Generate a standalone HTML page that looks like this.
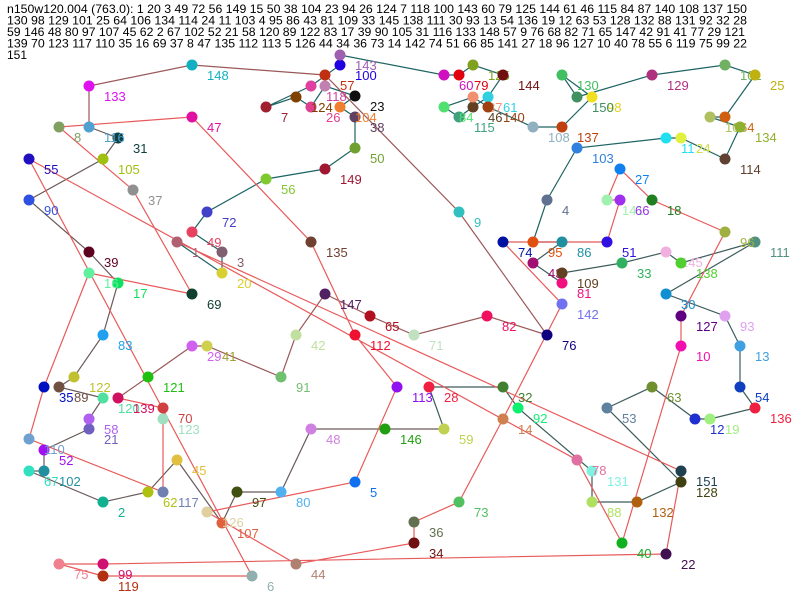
<!DOCTYPE html>
<html><head><meta charset="utf-8"><style>
html,body{margin:0;padding:0;background:#fff;width:800px;height:600px;overflow:hidden}
svg{display:block}
text{font-family:"Liberation Sans",sans-serif}
</style></head><body>
<svg width="800" height="600" xmlns="http://www.w3.org/2000/svg">
<g font-size="12" fill="#000">
<text x="7" y="13" textLength="740" lengthAdjust="spacingAndGlyphs">n150w120.004 (763.0): 1 20 3 49 72 56 149 15 50 38 104 23 94 26 124 7 118 100 143 60 79 125 144 61 46 115 84 87 140 108 137 150</text>
<text x="7" y="24.5" textLength="740" lengthAdjust="spacingAndGlyphs">130 98 129 101 25 64 106 134 114 24 11 103 4 95 86 43 81 109 33 145 138 111 30 93 13 54 136 19 12 63 53 128 132 88 131 92 32 28</text>
<text x="7" y="36" textLength="738" lengthAdjust="spacingAndGlyphs">59 146 48 80 97 107 45 62 2 67 102 52 21 58 120 89 122 83 17 39 90 105 31 116 133 148 57 9 76 68 82 71 65 147 42 91 41 77 29 121</text>
<text x="7" y="47.5" textLength="740" lengthAdjust="spacingAndGlyphs">139 70 123 117 110 35 16 69 37 8 47 135 112 113 5 126 44 34 36 73 14 142 74 51 66 85 141 27 18 96 127 10 40 78 55 6 119 75 99 22</text>
<text x="7" y="59">151</text>
</g>
<g fill="none" stroke-width="1.2">
<polyline stroke="#1e6464" points="177,242 222,273 222,252 192,232 207,212 266,179 325,169 355,148 355,148 355,117 340,107 355,96 325,86 311,107 296,97 266,107 311,86 340,65 340,55 444,75 459,75 473,65 503,75 488,97 473,107 459,117 444,107 473,97 488,107 533,127 562,127 592,97 562,75 577,97 652,75 725,65 755,75 725,117 710,117 740,127 725,159 681,138 666,138 577,148 547,200 533,242"/>
<polyline stroke="#3c5c5c" points="533,242 562,242 533,263 562,283 562,273 622,263 666,252 681,263 755,242 666,294 725,316 740,346 740,387 755,408 710,419 695,419 652,387 607,408 681,482 637,502 592,502 592,471 518,408 503,387 429,387 444,429"/>
<polyline stroke="#6a5a5a" points="444,429 385,429 311,429 281,492 237,492 222,523 177,460 148,492 103,502 29,471 44,471 44,450 89,429 89,419 103,398 59,387 74,377 103,335 118,283 89,252 29,200 103,159 118,138 89,127"/>
<polyline stroke="#9a5858" points="89,127 89,86 192,65 325,75 459,212 547,335 487,316 487,316 414,335 370,316 325,294 296,335 281,377 207,346 207,346 192,346 148,377 118,398"/>
<polyline stroke="#e85a5a" points="118,398 163,408 163,419 163,492 29,439 44,387 89,273 192,294 133,190 59,127 192,117 311,242 355,335 397,387 355,482 207,512 296,564 414,543 414,522 459,502 503,419 562,304 503,242 607,242 620,200 613,200 607,200 620,169 652,200 725,232 681,316 681,346 622,543 577,460 29,159 252,576 103,576 59,564 103,564 666,554 681,471 177,242"/>
</g>
<g font-size="13">
<circle cx="177" cy="242" r="5.5" fill="#b06070"/><text x="192" y="257" fill="#b06070">1</text>
<circle cx="222" cy="273" r="5.5" fill="#d8d030"/><text x="237" y="288" fill="#d8d030">20</text>
<circle cx="222" cy="252" r="5.5" fill="#806070"/><text x="237" y="267" fill="#806070">3</text>
<circle cx="192" cy="232" r="5.5" fill="#e84060"/><text x="207" y="247" fill="#e84060">49</text>
<circle cx="207" cy="212" r="5.5" fill="#4040c8"/><text x="222" y="227" fill="#4040c8">72</text>
<circle cx="266" cy="179" r="5.5" fill="#80c830"/><text x="281" y="194" fill="#80c830">56</text>
<circle cx="325" cy="169" r="5.5" fill="#a01830"/><text x="340" y="184" fill="#a01830">149</text>
<circle cx="355" cy="148" r="5.5" fill="#70a030"/><text x="370" y="163" fill="#70a030">50</text>
<circle cx="355" cy="117" r="5.5" fill="#604060"/><text x="370" y="132" fill="#604060">38</text>
<circle cx="340" cy="107" r="5.5" fill="#f08030"/><text x="355" y="122" fill="#f08030">104</text>
<circle cx="355" cy="96" r="5.5" fill="#101010"/><text x="370" y="111" fill="#101010">23</text>
<circle cx="325" cy="86" r="5.5" fill="#c080b0"/>
<circle cx="311" cy="107" r="5.5" fill="#e04090"/><text x="326" y="122" fill="#e04090">26</text>
<circle cx="296" cy="97" r="5.5" fill="#804000"/><text x="311" y="112" fill="#804000">124</text>
<circle cx="266" cy="107" r="5.5" fill="#a02030"/><text x="281" y="122" fill="#a02030">7</text>
<circle cx="311" cy="86" r="5.5" fill="#e040a0"/><text x="326" y="101" fill="#d040a0">118</text>
<circle cx="340" cy="65" r="5.5" fill="#2000e0"/><text x="355" y="80" fill="#2000e0">100</text>
<circle cx="340" cy="55" r="5.5" fill="#a060b0"/><text x="355" y="70" fill="#a060b0">143</text>
<circle cx="444" cy="75" r="5.5" fill="#d010c0"/><text x="459" y="90" fill="#d010c0">60</text>
<circle cx="459" cy="75" r="5.5" fill="#e00010"/><text x="474" y="90" fill="#e00010">79</text>
<circle cx="473" cy="65" r="5.5" fill="#80a020"/><text x="488" y="80" fill="#80a020">125</text>
<circle cx="503" cy="75" r="5.5" fill="#701010"/><text x="518" y="90" fill="#701010">144</text>
<circle cx="488" cy="97" r="5.5" fill="#30d0e0"/><text x="503" y="112" fill="#30d0e0">61</text>
<circle cx="473" cy="107" r="5.5" fill="#604020"/><text x="488" y="122" fill="#604020">46</text>
<circle cx="459" cy="117" r="5.5" fill="#40a080"/><text x="474" y="132" fill="#40a080">115</text>
<circle cx="444" cy="107" r="5.5" fill="#50e070"/><text x="459" y="122" fill="#50e070">84</text>
<circle cx="473" cy="97" r="5.5" fill="#f09070"/><text x="488" y="112" fill="#f09070">87</text>
<circle cx="488" cy="107" r="5.5" fill="#a04010"/><text x="503" y="122" fill="#a04010">140</text>
<circle cx="533" cy="127" r="5.5" fill="#90b0c0"/><text x="548" y="142" fill="#90b0c0">108</text>
<circle cx="562" cy="127" r="5.5" fill="#c04010"/><text x="577" y="142" fill="#c04010">137</text>
<circle cx="592" cy="97" r="5.5" fill="#f0e020"/><text x="607" y="112" fill="#e0d020">98</text>
<circle cx="562" cy="75" r="5.5" fill="#40c060"/><text x="577" y="90" fill="#40c060">130</text>
<circle cx="577" cy="97" r="5.5" fill="#409060"/><text x="592" y="112" fill="#409060">150</text>
<circle cx="652" cy="75" r="5.5" fill="#b03080"/><text x="667" y="90" fill="#b03080">129</text>
<circle cx="725" cy="65" r="5.5" fill="#70b060"/><text x="740" y="80" fill="#70b060">101</text>
<circle cx="755" cy="75" r="5.5" fill="#c0b010"/><text x="770" y="90" fill="#c0b010">25</text>
<circle cx="725" cy="117" r="5.5" fill="#d06010"/><text x="740" y="132" fill="#d06010">64</text>
<circle cx="710" cy="117" r="5.5" fill="#b0c060"/><text x="725" y="132" fill="#b0c060">106</text>
<circle cx="740" cy="127" r="5.5" fill="#90b030"/><text x="755" y="142" fill="#90b030">134</text>
<circle cx="725" cy="159" r="5.5" fill="#604030"/><text x="740" y="174" fill="#604030">114</text>
<circle cx="681" cy="138" r="5.5" fill="#e0f040"/><text x="696" y="153" fill="#d0e040">24</text>
<circle cx="666" cy="138" r="5.5" fill="#20e0f0"/><text x="681" y="153" fill="#20e0f0">11</text>
<circle cx="577" cy="148" r="5.5" fill="#3080e0"/><text x="592" y="163" fill="#3080e0">103</text>
<circle cx="547" cy="200" r="5.5" fill="#607090"/><text x="562" y="215" fill="#607090">4</text>
<circle cx="533" cy="242" r="5.5" fill="#e05010"/><text x="548" y="257" fill="#e05010">95</text>
<circle cx="562" cy="242" r="5.5" fill="#2090a0"/><text x="577" y="257" fill="#2090a0">86</text>
<circle cx="533" cy="263" r="5.5" fill="#a01070"/><text x="548" y="278" fill="#a01070">43</text>
<circle cx="562" cy="283" r="5.5" fill="#f01080"/><text x="577" y="298" fill="#f01080">81</text>
<circle cx="562" cy="273" r="5.5" fill="#604020"/><text x="577" y="288" fill="#604020">109</text>
<circle cx="622" cy="263" r="5.5" fill="#30b060"/><text x="637" y="278" fill="#30b060">33</text>
<circle cx="666" cy="252" r="5.5" fill="#f0b0e0"/><text x="681" y="267" fill="#f0b0e0">145</text>
<circle cx="681" cy="263" r="5.5" fill="#50d030"/><text x="696" y="278" fill="#50d030">138</text>
<circle cx="755" cy="242" r="5.5" fill="#509080"/><text x="770" y="257" fill="#509080">111</text>
<circle cx="666" cy="294" r="5.5" fill="#1090d0"/><text x="681" y="309" fill="#1090d0">30</text>
<circle cx="725" cy="316" r="5.5" fill="#e0a0f0"/><text x="740" y="331" fill="#e0a0f0">93</text>
<circle cx="740" cy="346" r="5.5" fill="#40a0e0"/><text x="755" y="361" fill="#40a0e0">13</text>
<circle cx="740" cy="387" r="5.5" fill="#1040c0"/><text x="755" y="402" fill="#1040c0">54</text>
<circle cx="755" cy="408" r="5.5" fill="#f02040"/><text x="770" y="423" fill="#f02040">136</text>
<circle cx="710" cy="419" r="5.5" fill="#a0f080"/><text x="725" y="434" fill="#a0f080">19</text>
<circle cx="695" cy="419" r="5.5" fill="#2030d0"/><text x="710" y="434" fill="#2030d0">12</text>
<circle cx="652" cy="387" r="5.5" fill="#709030"/><text x="667" y="402" fill="#709030">63</text>
<circle cx="607" cy="408" r="5.5" fill="#6080a0"/><text x="622" y="423" fill="#6080a0">53</text>
<circle cx="681" cy="482" r="5.5" fill="#404010"/><text x="696" y="497" fill="#404010">128</text>
<circle cx="637" cy="502" r="5.5" fill="#b06010"/><text x="652" y="517" fill="#b06010">132</text>
<circle cx="592" cy="502" r="5.5" fill="#b0e060"/><text x="607" y="517" fill="#b0e060">88</text>
<circle cx="592" cy="471" r="5.5" fill="#80f0e0"/><text x="607" y="486" fill="#80f0e0">131</text>
<circle cx="518" cy="408" r="5.5" fill="#10f070"/><text x="533" y="423" fill="#10f070">92</text>
<circle cx="503" cy="387" r="5.5" fill="#408030"/><text x="518" y="402" fill="#408030">32</text>
<circle cx="429" cy="387" r="5.5" fill="#f02040"/><text x="444" y="402" fill="#f02040">28</text>
<circle cx="444" cy="429" r="5.5" fill="#c0d050"/><text x="459" y="444" fill="#c0d050">59</text>
<circle cx="385" cy="429" r="5.5" fill="#20a010"/><text x="400" y="444" fill="#20a010">146</text>
<circle cx="311" cy="429" r="5.5" fill="#d080e0"/><text x="326" y="444" fill="#d080e0">48</text>
<circle cx="281" cy="492" r="5.5" fill="#50b0f0"/><text x="296" y="507" fill="#50b0f0">80</text>
<circle cx="237" cy="492" r="5.5" fill="#405010"/><text x="252" y="507" fill="#405010">97</text>
<circle cx="222" cy="523" r="5.5" fill="#e06040"/><text x="237" y="538" fill="#e06040">107</text>
<circle cx="177" cy="460" r="5.5" fill="#e0c040"/><text x="192" y="475" fill="#e0c040">45</text>
<circle cx="148" cy="492" r="5.5" fill="#b0c010"/><text x="163" y="507" fill="#b0c010">62</text>
<circle cx="103" cy="502" r="5.5" fill="#10b090"/><text x="118" y="517" fill="#10b090">2</text>
<circle cx="29" cy="471" r="5.5" fill="#30e0c0"/><text x="44" y="486" fill="#30e0c0">67</text>
<circle cx="44" cy="471" r="5.5" fill="#2090a0"/><text x="59" y="486" fill="#2090a0">102</text>
<circle cx="44" cy="450" r="5.5" fill="#a010f0"/><text x="59" y="465" fill="#a010f0">52</text>
<circle cx="89" cy="429" r="5.5" fill="#7060c0"/><text x="104" y="444" fill="#7060c0">21</text>
<circle cx="89" cy="419" r="5.5" fill="#b060f0"/><text x="104" y="434" fill="#b060f0">58</text>
<circle cx="103" cy="398" r="5.5" fill="#50e0a0"/><text x="118" y="413" fill="#50e0a0">120</text>
<circle cx="59" cy="387" r="5.5" fill="#705040"/><text x="74" y="402" fill="#705040">89</text>
<circle cx="74" cy="377" r="5.5" fill="#c0c030"/><text x="89" y="392" fill="#c0c030">122</text>
<circle cx="103" cy="335" r="5.5" fill="#20a0f0"/><text x="118" y="350" fill="#20a0f0">83</text>
<circle cx="118" cy="283" r="5.5" fill="#10e060"/><text x="133" y="298" fill="#10e060">17</text>
<circle cx="89" cy="252" r="5.5" fill="#600020"/><text x="104" y="267" fill="#600020">39</text>
<circle cx="29" cy="200" r="5.5" fill="#3050e0"/><text x="44" y="215" fill="#3050e0">90</text>
<circle cx="103" cy="159" r="5.5" fill="#a0c010"/><text x="118" y="174" fill="#a0c010">105</text>
<circle cx="118" cy="138" r="5.5" fill="#104040"/><text x="133" y="153" fill="#104040">31</text>
<circle cx="89" cy="127" r="5.5" fill="#50a0d0"/><text x="104" y="142" fill="#50a0d0">116</text>
<circle cx="89" cy="86" r="5.5" fill="#e010f0"/><text x="104" y="101" fill="#e010f0">133</text>
<circle cx="192" cy="65" r="5.5" fill="#10b0c0"/><text x="207" y="80" fill="#10b0c0">148</text>
<circle cx="325" cy="75" r="5.5" fill="#c03010"/><text x="340" y="90" fill="#c03010">57</text>
<circle cx="459" cy="212" r="5.5" fill="#30c0c0"/><text x="474" y="227" fill="#30c0c0">9</text>
<circle cx="547" cy="335" r="5.5" fill="#100080"/><text x="562" y="350" fill="#100080">76</text>
<circle cx="487" cy="316" r="5.5" fill="#f01060"/><text x="502" y="331" fill="#f01060">82</text>
<circle cx="414" cy="335" r="5.5" fill="#c0e0c0"/><text x="429" y="350" fill="#c0e0c0">71</text>
<circle cx="370" cy="316" r="5.5" fill="#b01020"/><text x="385" y="331" fill="#b01020">65</text>
<circle cx="325" cy="294" r="5.5" fill="#502060"/><text x="340" y="309" fill="#502060">147</text>
<circle cx="296" cy="335" r="5.5" fill="#c0e0a0"/><text x="311" y="350" fill="#c0e0a0">42</text>
<circle cx="281" cy="377" r="5.5" fill="#70c070"/><text x="296" y="392" fill="#70c070">91</text>
<circle cx="207" cy="346" r="5.5" fill="#d0d050"/><text x="222" y="361" fill="#a0a030">41</text>
<circle cx="192" cy="346" r="5.5" fill="#d060f0"/><text x="207" y="361" fill="#d060f0">29</text>
<circle cx="148" cy="377" r="5.5" fill="#20c010"/><text x="163" y="392" fill="#20c010">121</text>
<circle cx="118" cy="398" r="5.5" fill="#d01060"/><text x="133" y="413" fill="#d01060">139</text>
<circle cx="163" cy="408" r="5.5" fill="#d04040"/><text x="178" y="423" fill="#d04040">70</text>
<circle cx="163" cy="419" r="5.5" fill="#a0e0c0"/><text x="178" y="434" fill="#a0e0c0">123</text>
<circle cx="163" cy="492" r="5.5" fill="#7080b0"/><text x="178" y="507" fill="#7080b0">117</text>
<circle cx="29" cy="439" r="5.5" fill="#70a0d0"/><text x="44" y="454" fill="#70a0d0">110</text>
<circle cx="44" cy="387" r="5.5" fill="#0010c0"/><text x="59" y="402" fill="#0010c0">35</text>
<circle cx="89" cy="273" r="5.5" fill="#60f0a0"/><text x="104" y="288" fill="#60f0a0">16</text>
<circle cx="192" cy="294" r="5.5" fill="#104030"/><text x="207" y="309" fill="#104030">69</text>
<circle cx="133" cy="190" r="5.5" fill="#909090"/><text x="148" y="205" fill="#909090">37</text>
<circle cx="59" cy="127" r="5.5" fill="#80a060"/><text x="74" y="142" fill="#80a060">8</text>
<circle cx="192" cy="117" r="5.5" fill="#e010a0"/><text x="207" y="132" fill="#e010a0">47</text>
<circle cx="311" cy="242" r="5.5" fill="#704030"/><text x="326" y="257" fill="#704030">135</text>
<circle cx="355" cy="335" r="5.5" fill="#f01030"/><text x="370" y="350" fill="#f01030">112</text>
<circle cx="397" cy="387" r="5.5" fill="#9010f0"/><text x="412" y="402" fill="#9010f0">113</text>
<circle cx="355" cy="482" r="5.5" fill="#1070f0"/><text x="370" y="497" fill="#1070f0">5</text>
<circle cx="207" cy="512" r="5.5" fill="#e0d0a0"/><text x="222" y="527" fill="#e0d0a0">126</text>
<circle cx="296" cy="564" r="5.5" fill="#b08070"/><text x="311" y="579" fill="#b08070">44</text>
<circle cx="414" cy="543" r="5.5" fill="#701010"/><text x="429" y="558" fill="#701010">34</text>
<circle cx="414" cy="522" r="5.5" fill="#607050"/><text x="429" y="537" fill="#607050">36</text>
<circle cx="459" cy="502" r="5.5" fill="#50c060"/><text x="474" y="517" fill="#50c060">73</text>
<circle cx="503" cy="419" r="5.5" fill="#d08050"/><text x="518" y="434" fill="#d08050">14</text>
<circle cx="562" cy="304" r="5.5" fill="#7070f0"/><text x="577" y="319" fill="#7070f0">142</text>
<circle cx="503" cy="242" r="5.5" fill="#0010a0"/><text x="518" y="257" fill="#0010a0">74</text>
<circle cx="607" cy="242" r="5.5" fill="#3010e0"/><text x="622" y="257" fill="#3010e0">51</text>
<circle cx="607" cy="200" r="5.5" fill="#a0f0b0"/><text x="622" y="215" fill="#a0f0b0">141</text>
<circle cx="620" cy="200" r="5.5" fill="#a030f0"/><text x="635" y="215" fill="#a030f0">66</text>
<circle cx="620" cy="169" r="5.5" fill="#1080f0"/><text x="635" y="184" fill="#1080f0">27</text>
<circle cx="652" cy="200" r="5.5" fill="#208020"/><text x="667" y="215" fill="#208020">18</text>
<circle cx="725" cy="232" r="5.5" fill="#a0b040"/><text x="740" y="247" fill="#a0b040">96</text>
<circle cx="681" cy="316" r="5.5" fill="#600080"/><text x="696" y="331" fill="#600080">127</text>
<circle cx="681" cy="346" r="5.5" fill="#f010b0"/><text x="696" y="361" fill="#f010b0">10</text>
<circle cx="622" cy="543" r="5.5" fill="#10b020"/><text x="637" y="558" fill="#10b020">40</text>
<circle cx="577" cy="460" r="5.5" fill="#e070a0"/><text x="592" y="475" fill="#e070a0">78</text>
<circle cx="29" cy="159" r="5.5" fill="#2010c0"/><text x="44" y="174" fill="#2010c0">55</text>
<circle cx="252" cy="576" r="5.5" fill="#90b0b0"/><text x="267" y="591" fill="#90b0b0">6</text>
<circle cx="103" cy="576" r="5.5" fill="#b03010"/><text x="118" y="591" fill="#b03010">119</text>
<circle cx="59" cy="564" r="5.5" fill="#f08090"/><text x="74" y="579" fill="#f08090">75</text>
<circle cx="103" cy="564" r="5.5" fill="#d01070"/><text x="118" y="579" fill="#d01070">99</text>
<circle cx="666" cy="554" r="5.5" fill="#401050"/><text x="681" y="569" fill="#401050">22</text>
<circle cx="681" cy="471" r="5.5" fill="#204050"/><text x="696" y="486" fill="#204050">151</text>
</g>
</svg>
</body></html>
